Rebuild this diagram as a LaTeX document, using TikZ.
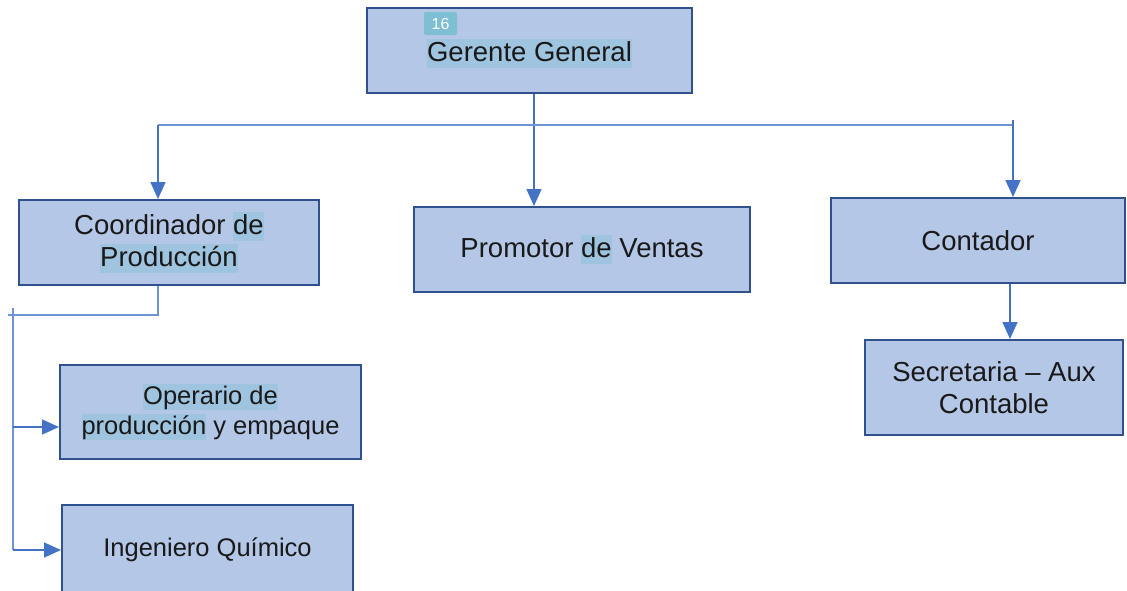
\documentclass[tikz,border=0pt]{standalone}
\usepackage{fontspec}
\setmainfont{Liberation Sans}
\usetikzlibrary{arrows.meta}
\definecolor{boxfill}{HTML}{B4C7E7}
\definecolor{boxdraw}{HTML}{2F528F}
\definecolor{conn}{HTML}{4472C4}
\definecolor{connlight}{HTML}{6F94D6}
\definecolor{hl}{HTML}{9FC4E0}
\definecolor{badge}{HTML}{7FBFD4}
\newcommand{\hlt}[1]{{\setlength{\fboxsep}{0pt}\colorbox{hl}{\rule[-0.22em]{0pt}{1.02em}#1}}}
\tikzset{
  orgbox/.style={draw=boxdraw, fill=boxfill, line width=2pt, inner sep=0pt, align=center,
    font=\fontsize{27.5}{32}\selectfont, text=black!90},
  smalltext/.style={font=\fontsize{25.5}{30}\selectfont},
  conline/.style={draw=connlight, line width=1.3pt},
  conarrow/.style={draw=conn, line width=1.6pt, -{Triangle[length=17pt,width=15pt]}},
}
\begin{document}
\begin{tikzpicture}[x=1pt,y=-1pt]
\useasboundingbox (0,0) rectangle (1127,590);
\begin{scope}
\clip (0,0) rectangle (1127,590);
\node[orgbox, minimum width=325pt, minimum height=85pt] (ger) at (529.5,50.5) {};
\node[font=\fontsize{27.5}{32}\selectfont, inner sep=0pt, text=black!90] (gert) at (529.5,53.5) {\hlt{Gerente General}};
\node[fill=badge, rounded corners=2pt, inner sep=0pt, minimum width=33pt, minimum height=23pt,
  text=white, font=\fontsize{16}{18}\selectfont] (badge) at (440.5,23.5) {16};
\node[orgbox, minimum width=300pt, minimum height=85pt] (coo) at (169,242.5) {Coordinador \hlt{de}\\\hlt{Producción}};
\node[orgbox, minimum width=336pt, minimum height=85pt] (pro) at (582,249.5) {Promotor \hlt{de} Ventas};
\node[orgbox, minimum width=294pt, minimum height=85pt] (con) at (978,240.5) {Contador};
\node[orgbox, minimum width=258pt, minimum height=95pt] (sec) at (994,387.5) {Secretaria -- Aux\\Contable};
\node[orgbox, smalltext, minimum width=301pt, minimum height=94pt] (ope) at (210.5,412) {\hlt{Operario de}\\\hlt{producción} y empaque};
\node[orgbox, smalltext, minimum width=291pt, minimum height=90pt] (ing) at (207.5,550) {Ingeniero Químico};
\end{scope}
% junction coordinates
\coordinate (gx) at (534,125);
\coordinate (hl) at (158,125);
\coordinate (hr) at (1013,125);
\coordinate (hrt) at (1013,120);
\coordinate (cx) at (1010,0);
\coordinate (cb) at (158,315);
\coordinate (cl) at (8,315);
\coordinate (st) at (13,308);
\coordinate (sb) at (13,550);
\coordinate (s1) at (13,427);
% connectors
\draw[conarrow] (ger.south -| gx) -- (pro.north -| gx);
\draw[conline] (hl) -- (hr);
\draw[conarrow] (hl) -- (coo.north -| hl);
\draw[conarrow] (hrt) -- (con.north -| hrt);
\draw[conarrow] (con.south -| cx) -- (sec.north -| cx);
\draw[conline] (coo.south -| cb) -- (cb) -- (cl);
\draw[conline] (st) -- (sb);
\draw[conarrow] (s1) -- (ope.west |- s1);
\draw[conarrow] (sb) -- (ing.west |- sb);
\end{tikzpicture}
\end{document}
